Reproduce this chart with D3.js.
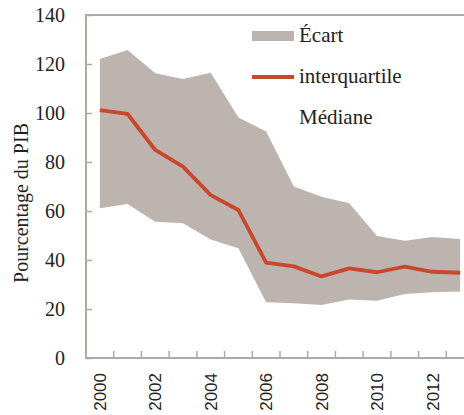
<!DOCTYPE html>
<html>
<head>
<meta charset="utf-8">
<script src="https://cdn.jsdelivr.net/npm/d3@7"></script>
<style>
  html, body { margin: 0; padding: 0; background: #fff; }
  svg { display: block; }
</style>
</head>
<body>
<script>
/* global d3 */
(function() {
  'use strict';

  const years = [2000, 2001, 2002, 2003, 2004, 2005, 2006, 2007, 2008, 2009, 2010, 2011, 2012, 2013];
  const upper = [122, 125.7, 116.2, 113.9, 116.4, 98.2, 92.4, 70, 65.8, 63.2, 49.8, 47.9, 49.4, 48.6];
  const lower = [61.1, 62.9, 55.6, 55, 48.4, 44.8, 22.8, 22.3, 21.6, 23.9, 23.4, 26.1, 26.8, 27.1];
  const median = [101.2, 99.6, 84.9, 78.1, 66.5, 60.4, 38.9, 37.4, 33.3, 36.6, 35, 37.3, 35.2, 34.8];
  const yTicks = [0, 20, 40, 60, 80, 100, 120, 140];
  const xLabels = [2000, 2002, 2004, 2006, 2008, 2010, 2012];

  const w = 464;
  const h = 415;
  const left = 86;
  const right = 474;
  const top = 15;
  const bottom = 358;

  const axisColor = '#b0a8a4';
  const areaColor = '#bdb4b0';
  const lineColor = '#c9472b';
  const serif = '"Liberation Serif", "Times New Roman", serif';
  const sans = '"Liberation Sans", Arial, sans-serif';

  const xScale =
    d3.scaleBand()
      .domain(years)
      .range([left, right])
      .padding(0);
  const cx = (d) => xScale(d) + xScale.bandwidth() / 2;

  const yScale =
    d3.scaleLinear()
      .domain([0, 140])
      .range([bottom, top]);

  const svg =
    d3.select('body')
      .append('svg')
      .attr('width', w)
      .attr('height', h);

  // band between lower and upper bounds
  const area = d3.area()
    .x((d, i) => cx(years[i]))
    .y0((d, i) => yScale(lower[i]))
    .y1((d) => yScale(d));

  svg.append('path')
    .datum(upper)
    .attr('d', area)
    .attr('fill', areaColor);

  // median line
  const line = d3.line()
    .x((d, i) => cx(years[i]))
    .y((d) => yScale(d));

  svg.append('path')
    .datum(median)
    .attr('d', line)
    .attr('fill', 'none')
    .attr('stroke', lineColor)
    .attr('stroke-width', 3.8)
    .attr('stroke-linejoin', 'round');

  // frame: left axis, top line, bottom axis
  svg.append('path')
    .attr('d', 'M' + right + ',' + top + 'H' + left + 'V' + bottom + 'H' + right)
    .attr('fill', 'none')
    .attr('stroke', axisColor)
    .attr('stroke-width', 2);

  // y ticks point inward
  const yAxis = d3.axisRight(yScale)
    .tickValues(yTicks)
    .tickSize(6)
    .tickFormat('');
  const gy = svg.append('g')
    .attr('id', 'y-axis')
    .attr('transform', 'translate(' + left + ',0)')
    .call(yAxis);
  gy.select('.domain').remove();
  gy.selectAll('line').attr('stroke', axisColor).attr('stroke-width', 1.5);

  svg.append('g')
    .selectAll('text')
    .data(yTicks)
    .enter()
    .append('text')
    .attr('x', 65)
    .attr('y', (d) => yScale(d))
    .attr('dy', '0.34em')
    .attr('text-anchor', 'end')
    .attr('font-family', serif)
    .attr('font-size', 20)
    .attr('fill', '#222')
    .text((d) => d);

  // x ticks sit between categories and point upward
  svg.append('g')
    .selectAll('line')
    .data(years.slice(1))
    .enter()
    .append('line')
    .attr('x1', (d) => xScale(d))
    .attr('x2', (d) => xScale(d))
    .attr('y1', bottom)
    .attr('y2', bottom - 7)
    .attr('stroke', axisColor)
    .attr('stroke-width', 1.5);

  svg.append('g')
    .selectAll('text')
    .data(xLabels)
    .enter()
    .append('text')
    .attr('transform', (d) => 'translate(' + cx(d) + ',373) rotate(-90)')
    .attr('dy', '0.36em')
    .attr('text-anchor', 'end')
    .attr('font-family', sans)
    .attr('font-size', 17)
    .attr('fill', '#222')
    .text((d) => d);

  svg.append('text')
    .attr('transform', 'translate(28,203) rotate(-90)')
    .attr('text-anchor', 'middle')
    .attr('font-family', serif)
    .attr('font-size', 20)
    .attr('fill', '#222')
    .text('Pourcentage du PIB');

  // legend
  const legend = svg.append('g').attr('font-family', serif).attr('font-size', 21).attr('fill', '#222');
  legend.append('rect')
    .attr('x', 252)
    .attr('y', 31)
    .attr('width', 42)
    .attr('height', 10)
    .attr('fill', areaColor);
  legend.append('text').attr('x', 299).attr('y', 42).text('Écart');
  legend.append('line')
    .attr('x1', 252)
    .attr('x2', 294)
    .attr('y1', 77)
    .attr('y2', 77)
    .attr('stroke', lineColor)
    .attr('stroke-width', 4);
  legend.append('text').attr('x', 299).attr('y', 83).text('interquartile');
  legend.append('text').attr('x', 299).attr('y', 124).text('Médiane');
}());
</script>
</body>
</html>
